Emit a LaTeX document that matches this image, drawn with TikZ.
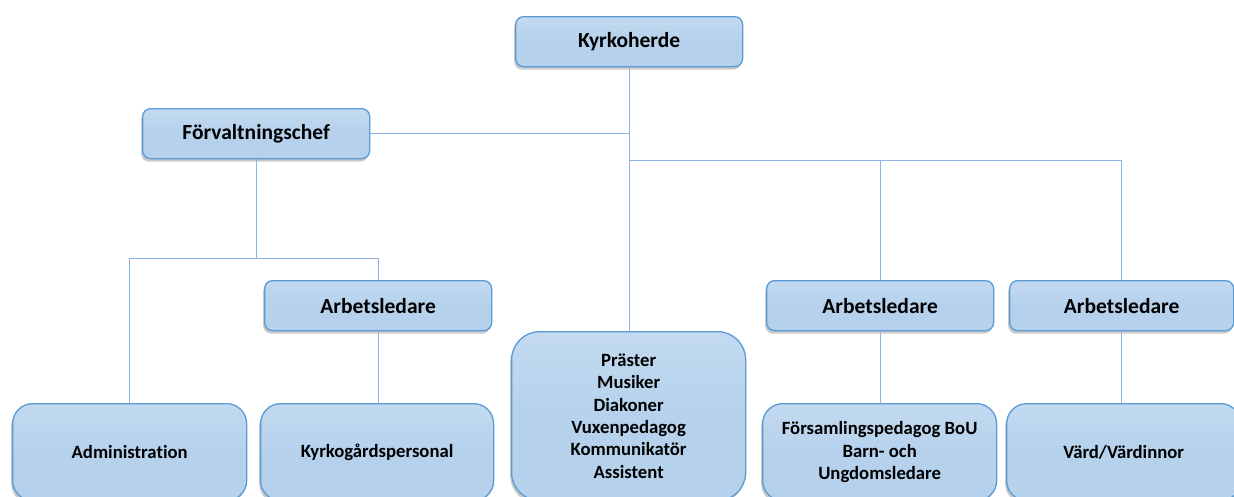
\documentclass[tikz,border=0pt]{standalone}
\usepackage{fontspec}
\setmainfont{Carlito}[Ligatures=NoCommon]
\usetikzlibrary{shadows}
\definecolor{boxfill}{HTML}{B5D1EC}
\definecolor{boxtop}{HTML}{C3DAF0}
\definecolor{boxedge}{HTML}{5B9BD5}
\definecolor{linkc}{HTML}{8EB4E3}
\tikzset{
  basebox/.style={draw=boxedge, line width=1.3pt, top color=boxtop, bottom color=boxfill,
    middle color=boxfill, inner sep=0pt, anchor=north west, align=center,
    drop shadow={shadow xshift=-1.5pt, shadow yshift=-3pt, opacity=0.35, fill=black!60}},
  headbox/.style={basebox, rounded corners=8pt, minimum height=50pt,
    font=\fontsize{21.5}{24}\selectfont\bfseries},
  lowbox/.style={basebox, rounded corners=20pt,
    font=\fontsize{18.7}{22.3}\selectfont\bfseries},
  link/.style={draw=linkc, line width=1pt}
}
\begin{document}
\begin{tikzpicture}[x=1pt,y=-1pt]
\clip (0,0) rectangle (1234,496);
\fill[white] (0,0) rectangle (1234,496);
% head boxes
\node[headbox, minimum width=227pt] (kh) at (515,16) {Kyrkoherde};
\node[headbox, minimum width=227pt] (fc) at (142,108) {Förvaltningschef};
\node[headbox, minimum width=227pt] (al1) at (264,280) {Arbetsledare};
\node[headbox, minimum width=227pt] (al2) at (766,280) {Arbetsledare};
\node[headbox, minimum width=224pt] (al3) at (1009,280) {Arbetsledare};
% lower boxes
\node[lowbox, minimum width=234pt, minimum height=97pt] (adm) at (12,403) {Administration};
\node[lowbox, minimum width=233pt, minimum height=97pt] (kgp) at (260,403) {Kyrkogårdspersonal};
\node[lowbox, rounded corners=28pt, minimum width=234pt, minimum height=169pt] (mid) at (511,331)
  {Präster\\Musiker\\Diakoner\\Vuxenpedagog\\Kommunikatör\\Assistent};
\node[lowbox, minimum width=234pt, minimum height=97pt] (fp) at (762,403)
  {Församlingspedagog BoU\\Barn- och\\Ungdomsledare};
\node[lowbox, minimum width=234pt, minimum height=97pt] (vv) at (1006,403) {Värd/Värdinnor};
% connectors
\coordinate (j1) at (628,160);
\coordinate (j2) at (255,258);
\draw[link] (kh.south) -- (kh.south |- mid.north);
\draw[link] (fc.east) -- (fc.east -| kh.south);
\draw[link] (kh.south |- j1) -- (j1 -| al3.north) -- (al3.north);
\draw[link] (j1 -| al2.north) -- (al2.north);
\draw[link] (fc.south) -- (fc.south |- j2);
\draw[link] (adm.north) -- (adm.north |- j2) -- (al1.north |- j2) -- (al1.north);
\draw[link] (al1.south) -- (al1.south |- kgp.north);
\draw[link] (al2.south) -- (al2.south |- fp.north);
\draw[link] (al3.south) -- (al3.south |- vv.north);
\end{tikzpicture}
\end{document}
